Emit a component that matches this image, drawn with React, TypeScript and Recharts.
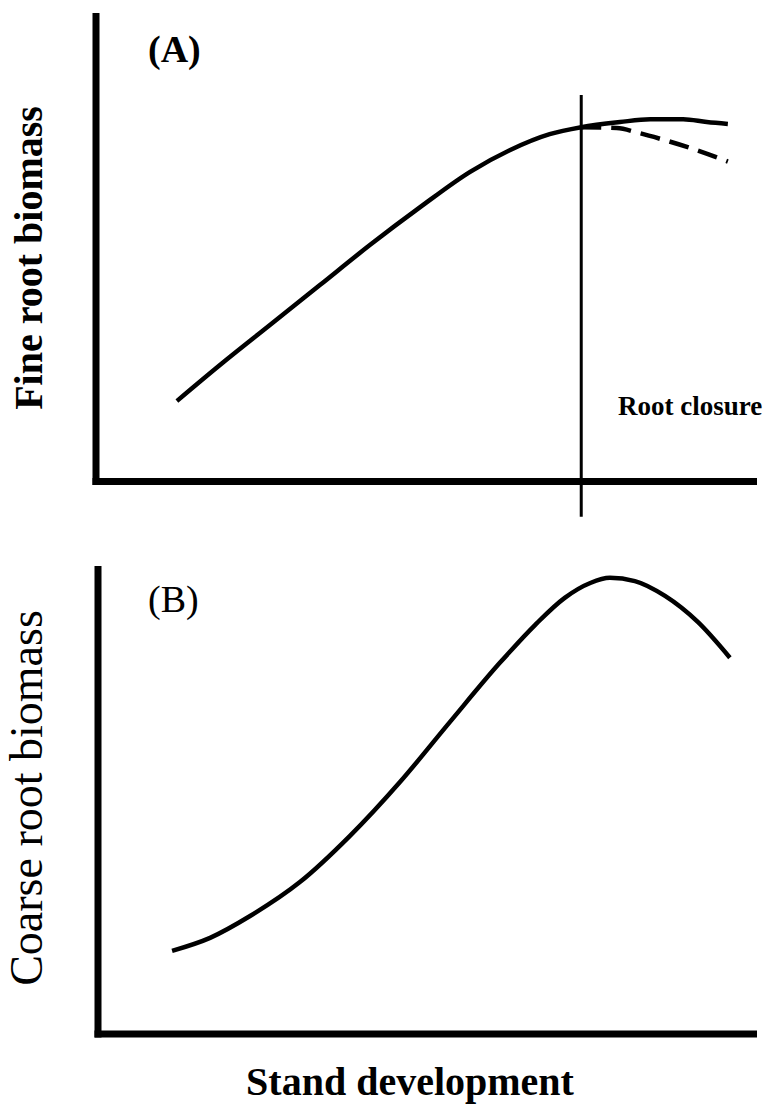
import React from 'react';
import { LineChart, Line, XAxis, YAxis, ReferenceLine } from 'recharts';

// Panel A: fine root biomass over stand development (0–100 on both axes)
const fineRootX = [12.3, 18.9, 26.5, 34.1, 41.7, 49.3, 56.9, 63.0, 69.0, 73.8, 79.7, 84.3, 89.3, 92.9, 96.1];
const fineRootY = [17.3, 25.1, 33.7, 42.3, 50.9, 59.0, 66.6, 71.3, 74.7, 76.2, 77.3, 77.9, 77.9, 77.3, 76.9];

// Alternative declining trajectory after root closure
const fineRootDeclineX = [73.8, 79.2, 82.7, 85.8, 90.0, 94.6, 96.1];
const fineRootDeclineY = [76.2, 76.0, 74.9, 73.7, 71.9, 69.6, 68.8];

// Root closure marker on the stand development axis
const rootClosureX = 73.8;
const rootClosureSpan = [-7.6, 83.1];

// Panel B: coarse root biomass over stand development
const coarseRootX = [11.3, 17.1, 23.2, 30.8, 38.4, 46.1, 53.7, 61.3, 66.7, 71.2, 75.1, 78.1, 81.9, 86.5, 91.5, 96.4];
const coarseRootY = [17.9, 20.7, 25.4, 32.7, 42.6, 54.3, 67.2, 79.9, 88.1, 93.9, 97.1, 98.2, 97.5, 94.3, 88.7, 81.0];

const zip = (xs: number[], ys: number[]) => xs.map((x, i) => ({ x, y: ys[i] }));

const fineData = zip(fineRootX, fineRootY);
const fineDeclineData = zip(fineRootDeclineX, fineRootDeclineY);
const coarseData = zip(coarseRootX, coarseRootY);

const FONT = '"Liberation Serif", "Times New Roman", serif';
const AXIS_W = 7;

// Hidden numeric axes plus heavy L-shaped axis lines drawn as reference lines
function frame() {
  return [
    <XAxis key="xa" type="number" dataKey="x" domain={[0, 100]} hide allowDataOverflow />,
    <YAxis key="ya" type="number" dataKey="y" domain={[0, 100]} hide allowDataOverflow />,
    <ReferenceLine
      key="xl"
      segment={[{ x: 0, y: 0 }, { x: 100, y: 0 }]}
      stroke="#000"
      strokeWidth={AXIS_W}
      strokeLinecap="square"
      ifOverflow="visible"
    />,
    <ReferenceLine
      key="yl"
      segment={[{ x: 0, y: 0 }, { x: 0, y: 100 }]}
      stroke="#000"
      strokeWidth={AXIS_W}
      strokeLinecap="square"
      ifOverflow="visible"
    />,
  ];
}

export default function App() {
  return (
    <div style={{ position: 'absolute', left: 0, top: 0, width: 767, height: 1112, background: '#fff' }}>
      <div style={{ position: 'absolute', left: 0, top: 0 }}>
        <LineChart width={767} height={540} margin={{ top: 16.5, right: 13.5, bottom: 58.5, left: 96 }}>
          {frame()}
          <ReferenceLine
            segment={[
              { x: rootClosureX, y: rootClosureSpan[0] },
              { x: rootClosureX, y: rootClosureSpan[1] },
            ]}
            stroke="#000"
            strokeWidth={3}
            ifOverflow="visible"
          />
          <Line
            data={fineDeclineData}
            dataKey="y"
            type="monotone"
            stroke="#000"
            strokeWidth={4.5}
            strokeDasharray="20 10"
            dot={false}
            isAnimationActive={false}
          />
          <Line
            data={fineData}
            dataKey="y"
            type="monotone"
            stroke="#000"
            strokeWidth={4.5}
            dot={false}
            isAnimationActive={false}
          />
        </LineChart>
      </div>
      <div style={{ position: 'absolute', left: 0, top: 540 }}>
        <LineChart width={767} height={572} margin={{ top: 29.5, right: 13.5, bottom: 78, left: 98 }}>
          {frame()}
          <Line
            data={coarseData}
            dataKey="y"
            type="monotone"
            stroke="#000"
            strokeWidth={4.5}
            dot={false}
            isAnimationActive={false}
          />
        </LineChart>
      </div>
      <svg
        width={767}
        height={1112}
        style={{ position: 'absolute', left: 0, top: 0, pointerEvents: 'none' }}
        fontFamily={FONT}
        fill="#000"
      >
        <text x={148} y={62} fontSize={38} fontWeight="bold">(A)</text>
        <text x={618} y={415} fontSize={27} fontWeight="bold">Root closure</text>
        <text x={42} y={258} fontSize={40} fontWeight="bold" textAnchor="middle" transform="rotate(-90, 42, 258)">
          Fine root biomass
        </text>
        <text x={148} y={612} fontSize={38}>(B)</text>
        <text x={42} y={798} fontSize={46} textAnchor="middle" transform="rotate(-90, 42, 798)">
          Coarse root biomass
        </text>
        <text x={410} y={1095} fontSize={40} fontWeight="bold" textAnchor="middle">Stand development</text>
      </svg>
    </div>
  );
}
